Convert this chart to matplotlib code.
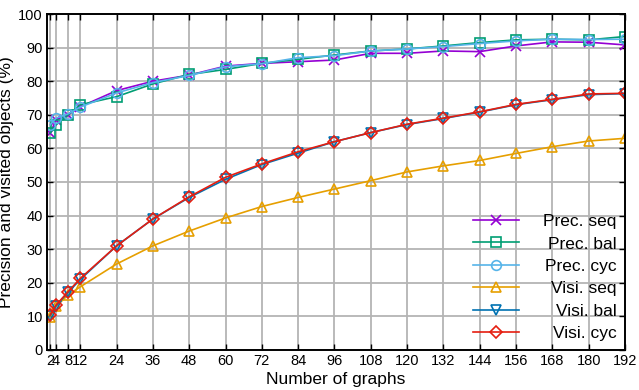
import matplotlib
matplotlib.use('Agg')
import matplotlib.pyplot as plt

plt.rcParams['font.family'] = ['Liberation Sans', 'DejaVu Sans']

graphs = [2, 4, 8, 12, 24, 36, 48, 60, 72, 84, 96, 108, 120, 132, 144, 156, 168, 180, 192]
xtick_labels = ['2', '4', '8', '12', '24', '36', '48', '60', '72', '84', '96', '108', '120',
                '132', '144', '156', '168', '180', '192']

prec_seq = [64.5, 68.5, 70.0, 72.4, 77.2, 80.0, 81.8, 84.5, 85.3, 85.8, 86.3, 88.3, 88.3,
            89.0, 88.8, 90.5, 91.7, 91.6, 90.8]
prec_bal = [64.5, 67.0, 70.0, 73.0, 75.4, 79.2, 82.0, 83.5, 85.3, 86.5, 87.8, 89.0, 89.6,
            90.5, 91.5, 92.3, 92.5, 92.3, 93.3]
prec_cyc = [67.0, 69.0, 70.3, 72.3, 76.5, 79.6, 81.7, 84.3, 85.2, 87.0, 87.6, 89.0, 89.6,
            90.3, 91.2, 92.0, 92.5, 92.4, 92.5]
visi_seq = [9.9, 13.0, 16.4, 18.8, 25.6, 31.0, 35.4, 39.3, 42.7, 45.4, 47.9, 50.4, 53.0,
            54.8, 56.4, 58.5, 60.5, 62.2, 63.0]
visi_bal = [10.2, 13.2, 17.2, 21.0, 31.0, 39.0, 45.4, 50.8, 55.2, 58.6, 62.0, 64.7, 67.1,
            68.9, 70.8, 73.0, 74.5, 76.0, 76.3]
visi_cyc = [10.4, 13.4, 17.4, 21.3, 31.0, 39.0, 45.6, 51.4, 55.4, 59.0, 62.0, 64.7, 67.2,
            69.0, 70.9, 73.1, 74.6, 76.2, 76.4]

series = [
    ('Prec. seq', prec_seq, '#9400d3', 'x'),
    ('Prec. bal', prec_bal, '#009e73', 's'),
    ('Prec. cyc', prec_cyc, '#56b4e9', 'o'),
    ('Visi. seq', visi_seq, '#e69f00', '^'),
    ('Visi. bal', visi_bal, '#0072b2', 'v'),
    ('Visi. cyc', visi_cyc, '#e51e10', 'D'),
]

fig = plt.figure(figsize=(6.39, 3.9), dpi=100)
ax = fig.add_axes([0.0736, 0.1026, 0.9044, 0.8615])

for name, vals, col, mk in series:
    ms = 6 if mk == 'D' else 7
    ax.plot(graphs, vals, color=col, marker=mk, markersize=ms, fillstyle='none',
            markeredgewidth=1.2, linewidth=1.2, label=name)

ax.set_xlim(1, 192)
ax.set_ylim(0, 100)
ax.set_xticks(graphs)
ax.set_xticklabels(xtick_labels)
ax.set_yticks(range(0, 101, 10))
ax.grid(True, color='#b4b4b4', linewidth=1.3)
ax.set_axisbelow(True)
ax.tick_params(direction='in', top=True, right=True, length=4, width=1, labelsize=10.5, pad=3)
for s in ax.spines.values():
    s.set_linewidth(1.4)

ax.set_xlabel('Number of graphs', fontsize=12.5, labelpad=3)
ax.set_ylabel('Precision and visited objects (%)', fontsize=12.5, labelpad=3)

leg = ax.legend(loc='lower right', frameon=False, fontsize=12.5, handlelength=2.6,
                labelspacing=0.42, borderaxespad=0.2, borderpad=0.3, handletextpad=1.4)
# right-align the legend texts like gnuplot does
fig.canvas.draw()
renderer = fig.canvas.get_renderer()
widths = [t.get_window_extent(renderer).width for t in leg.get_texts()]
shift = max(widths)
for t, w in zip(leg.get_texts(), widths):
    t.set_position((shift - w, 0))

fig.savefig('out.png', dpi=100)
